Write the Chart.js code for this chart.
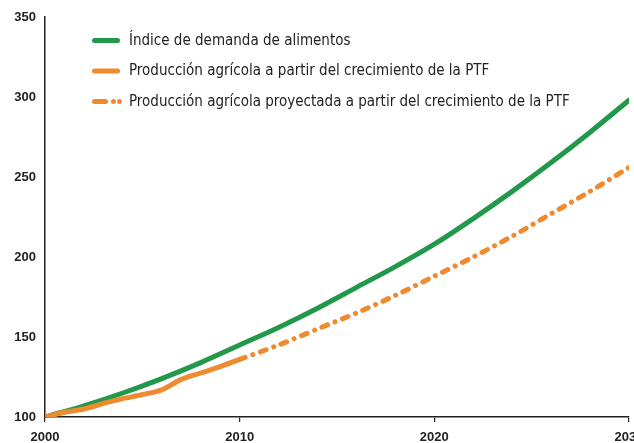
<!DOCTYPE html>
<html>
<head>
<meta charset="utf-8">
<script src="https://cdn.jsdelivr.net/npm/chart.js@4"></script>
<style>
  html,body{margin:0;padding:0;background:#fff;overflow:hidden;}
  #wrap{width:660px;height:443px;position:relative;}
</style>
</head>
<body>
<div id="wrap"><canvas id="c"></canvas></div>
<script>
const GREEN='#22994a', ORANGE='#ef8a2e';
const LEGEND_FONT='"Liberation Sans Narrow","DejaVu Sans Condensed",sans-serif';
const TICK_FONT={family:'"Liberation Sans",sans-serif',size:13,weight:'bold'};

// Índice de demanda de alimentos
const demandYears=[2000,2002,2004,2006,2008,2010,2012,2014,2016,2018,2020,2022,2024,2026,2028,2030];
const demandVals=[100,107,115,124,134,145,156,168,181,194,208,224,241,259,278,298];
// Producción agrícola (PTF) observada
const prodYears=[2000,2001,2002,2003,2004,2005,2006,2007,2008,2009,2010];
const prodVals=[100,103,105,108.5,111.5,114,117,123.5,127.5,131.5,136];
// Producción agrícola proyectada
const projYears=[2010,2012,2014,2016,2018,2020,2022,2024,2026,2028,2030];
const projVals=[136,145,155,165,176,188,200,213,227,241,256];

const labels=['Índice de demanda de alimentos',
  'Producción agrícola a partir del crecimiento de la PTF',
  'Producción agrícola proyectada a partir del crecimiento de la PTF'];
const yTicks=[100,150,200,250,300,350];
const xTicks=[2000,2010,2020,2030];

const pts=(xs,ys)=>xs.map((x,i)=>({x:x,y:ys[i]}));

// legend drawn inside the plot, top left
const legendPlugin={id:'inLegend',afterDraw(chart){
  const ctx=chart.ctx;
  ctx.save();
  ctx.lineCap='round';ctx.lineWidth=5;
  ctx.font='15px '+LEGEND_FONT;ctx.textBaseline='middle';
  const rows=[40.5,71,101.5];
  rows.forEach((y,i)=>{
    const ds=chart.data.datasets[i];
    ctx.strokeStyle=ds.borderColor;ctx.fillStyle=ds.borderColor;
    ctx.beginPath();
    if(i<2){ctx.moveTo(94.5,y);ctx.lineTo(117.5,y);ctx.stroke();}
    else{
      ctx.moveTo(94.5,y);ctx.lineTo(105.5,y);ctx.stroke();
      [113.5,119.5].forEach(cx=>{ctx.beginPath();ctx.arc(cx,y,2.5,0,Math.PI*2);ctx.fill();});
    }
    ctx.fillStyle='#222';
    ctx.fillText(ds.label,129,y+0.5);
  });
  ctx.restore();
}};

new Chart(document.getElementById('c'),{type:'line',
  data:{datasets:[
    {label:labels[0],data:pts(demandYears,demandVals),borderColor:GREEN,borderWidth:5,order:2,
      pointRadius:0,tension:0.3,borderCapStyle:'round',fill:false},
    {label:labels[1],data:pts(prodYears,prodVals),borderColor:ORANGE,borderWidth:5,order:1,
      pointRadius:0,tension:0.3,borderCapStyle:'round',fill:false},
    {label:labels[2],data:pts(projYears,projVals),borderColor:ORANGE,borderWidth:5,order:0,
      pointRadius:0,tension:0.3,borderCapStyle:'round',borderDash:[6,8,0.1,8],fill:false}
  ]},
  options:{responsive:true,maintainAspectRatio:false,animation:false,
    layout:{padding:{top:17,right:31,left:0,bottom:0}},
    plugins:{legend:{display:false},tooltip:{enabled:false}},
    scales:{
      x:{type:'linear',min:2000,max:2030,
        afterBuildTicks:s=>{s.ticks=xTicks.map(v=>({value:v}));},
        afterFit:s=>{s.height=26;},
        grid:{drawOnChartArea:false,tickLength:5,color:'#222',lineWidth:1.2},
        border:{color:'#222',width:1.5},
        ticks:{padding:8,color:'#222',font:TICK_FONT,callback:v=>String(v),maxRotation:0}},
      y:{min:100,max:350,
        afterBuildTicks:s=>{s.ticks=yTicks.map(v=>({value:v}));},
        afterFit:s=>{s.width=45;},
        grid:{display:false,drawTicks:false},
        border:{color:'#222',width:1.5},
        ticks:{padding:9,color:'#222',font:TICK_FONT}}
    }},
  plugins:[legendPlugin]
});
</script>
</body>
</html>
